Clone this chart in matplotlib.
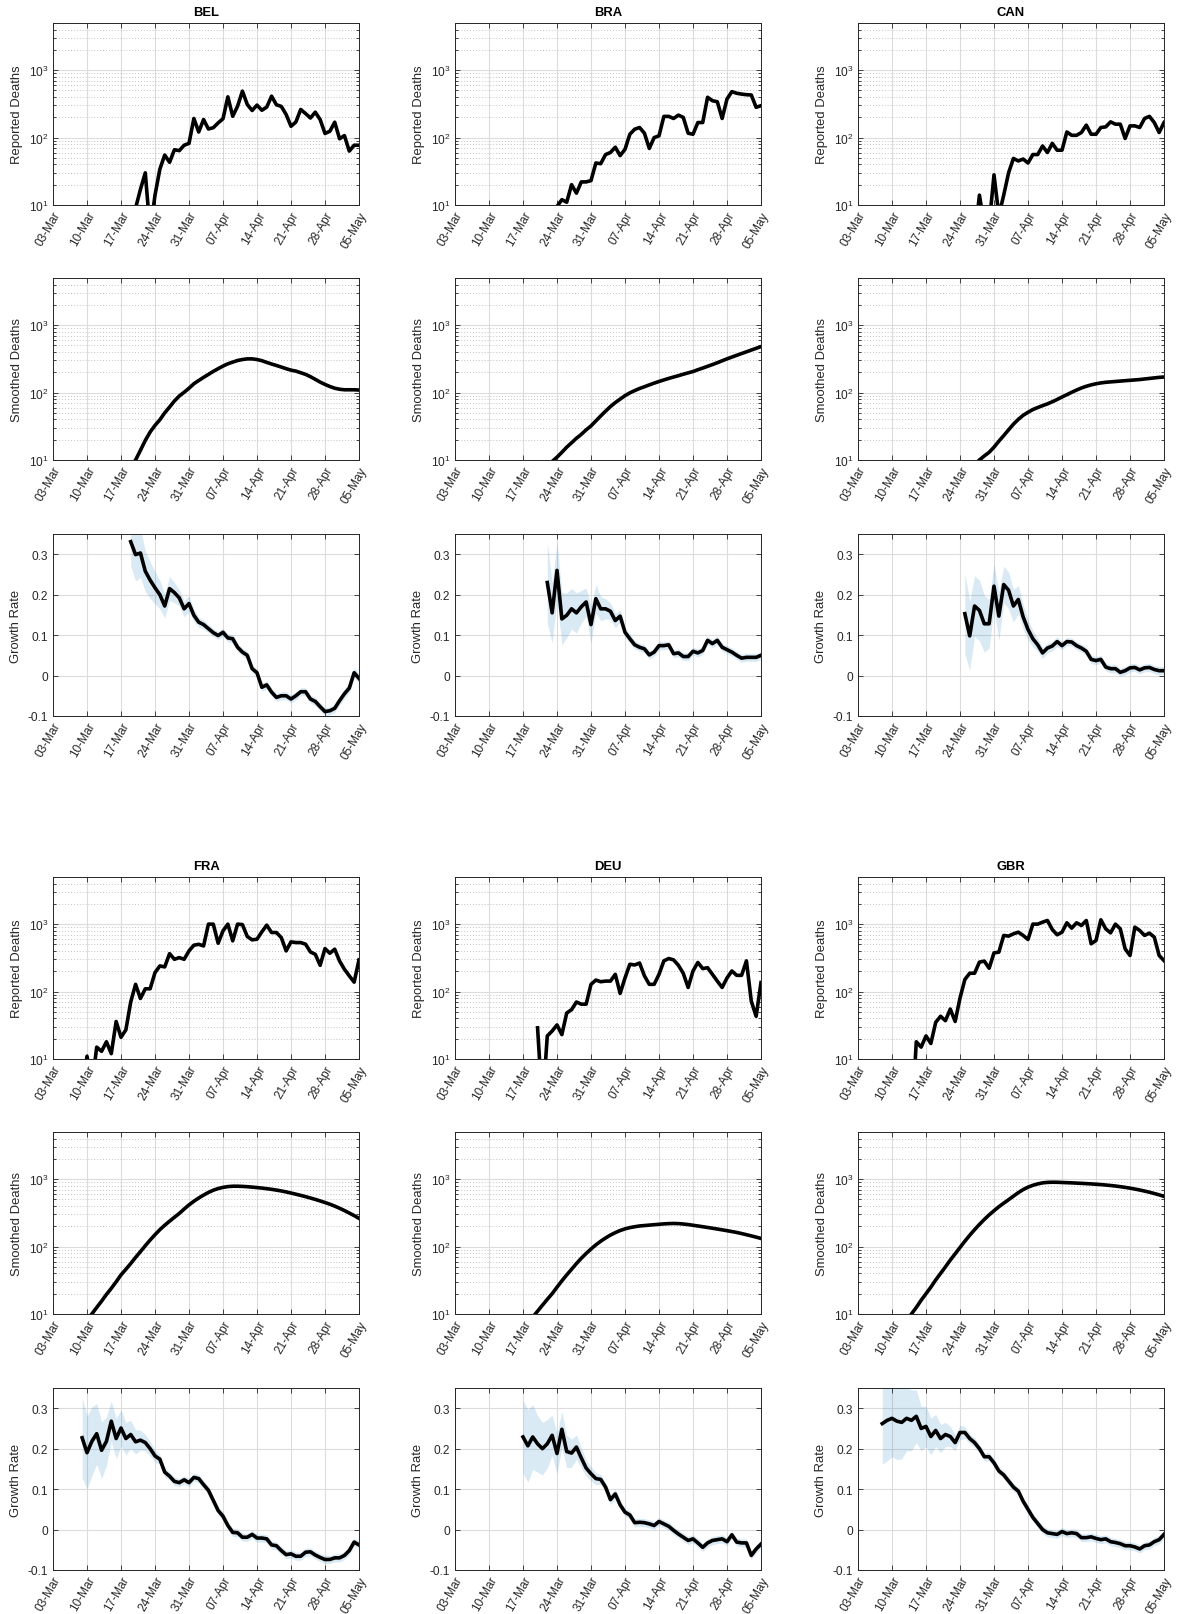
import numpy as np
import matplotlib
matplotlib.use('Agg')
import matplotlib.pyplot as plt
import matplotlib.dates as mdates
from matplotlib.ticker import LogLocator, NullFormatter

plt.rcParams['font.family'] = ['Liberation Sans', 'DejaVu Sans']
plt.rcParams['mathtext.fontset'] = 'custom'
plt.rcParams['mathtext.rm'] = 'Liberation Sans'
plt.rcParams['mathtext.it'] = 'Liberation Sans:italic'

FIG_W, FIG_H = 1178, 1615
X_START = np.datetime64('2020-03-03')
X_END = np.datetime64('2020-05-05')

COUNTRIES = ['BEL', 'BRA', 'CAN', 'FRA', 'DEU', 'GBR']

# daily series, each one ends on 05-May
BEL_REPORTED = [9, 17, 30, 4, 14, 34, 55, 43, 66, 64, 77, 82, 192, 121, 185, 134, 140, 165, 190, 402,
                207, 292, 488, 309, 252, 303, 254, 283, 411, 306, 290, 220, 147, 170, 261, 227, 195, 238,
                185, 115, 124, 169, 96, 107, 63, 77, 77]
BRA_REPORTED = [6, 9.5, 12, 11, 20, 15, 22, 22, 23, 42, 41, 56, 60, 72, 54, 67, 112, 133, 141, 116, 69,
                100, 106, 206, 206, 192, 215, 199, 116, 112, 167, 167, 396, 352, 340, 192, 373, 480, 454,
                441, 432, 428, 281, 297]
CAN_REPORTED = [3, 14, 5, 5, 28, 7, 14, 30, 49, 45, 48, 42, 56, 56, 75, 60, 82, 65, 65, 121, 108, 108,
                119, 153, 112, 112, 141, 144, 171, 158, 158, 97, 149, 149, 141, 192, 206, 167, 119, 167]
FRA_REPORTED = [3, 11, 4, 15, 13, 18, 12, 36, 21, 27, 70, 128, 79, 110, 110, 191, 240, 232, 365, 301,
                319, 301, 401, 487, 502, 475, 1000, 1000, 521, 795, 1000, 565, 1000, 985, 655, 585, 598,
                769, 966, 751, 751, 632, 401, 546, 533, 533, 504, 387, 357, 245, 434, 370, 425, 284, 214,
                171, 138, 295]
DEU_REPORTED = [29, 2, 22, 26, 32, 23, 48, 54, 70, 65, 65, 128, 148, 140, 143, 143, 180, 94, 159, 254,
                248, 265, 171, 128, 128, 180, 285, 309, 295, 245, 186, 115, 202, 270, 219, 226, 180, 143,
                115, 159, 202, 174, 174, 285, 72, 43, 136]
GBR_REPORTED = [1, 18, 15, 22, 17, 35, 43, 37, 55, 36, 80, 151, 187, 187, 273, 283, 222, 375, 384, 680,
                664, 718, 760, 680, 592, 1000, 1000, 1070, 1133, 833, 695, 760, 1046, 872, 1046, 955, 1133,
                511, 572, 1160, 852, 743, 1000, 852, 430, 343, 902, 805, 680, 735, 641, 343, 288]

BEL_SMOOTHED = [8, 10, 13.9, 19.5, 26, 32.6, 39.5, 50, 61, 75, 89, 101, 116, 135, 151, 168, 186, 206,
                226, 247, 267, 283, 299, 309, 316, 316, 309, 297, 280, 265, 252, 239, 226, 215, 208, 197,
                186, 172, 157, 143, 132, 123, 116, 112, 110, 110, 110, 109]
BRA_SMOOTHED = [9.5, 11, 13, 15.5, 18, 21, 24, 28, 32, 38, 45, 53, 62, 71, 80, 90, 99, 107, 115, 122,
                130, 138, 146, 154, 162, 170, 178, 187, 196, 205, 218, 231, 245, 260, 277, 296, 316, 336,
                357, 379, 402, 427, 453, 480]
CAN_SMOOTHED = [8.5, 10, 11.5, 13, 15.5, 19, 23, 28, 34, 40, 46, 51, 56, 60, 64, 68, 73, 79, 86, 93,
                101, 109, 117, 124, 130, 135, 139, 142, 144, 146, 148, 150, 152, 154, 156, 159, 162, 165,
                168, 170]
FRA_SMOOTHED = [8.5, 10, 12.5, 15.5, 19.5, 24, 30, 38, 46, 56, 69, 84, 103, 125, 150, 178, 207, 238,
                272, 310, 360, 415, 470, 525, 580, 635, 685, 725, 755, 775, 785, 785, 780, 772, 762, 750,
                737, 722, 706, 688, 668, 646, 622, 598, 574, 550, 525, 500, 475, 450, 425, 398, 370, 342,
                314, 288, 262]
DEU_SMOOTHED = [9, 11, 13.5, 16.5, 20, 25, 31, 38, 46, 56, 67, 79, 92, 106, 120, 134, 148, 161, 173,
                183, 191, 197, 202, 205, 208, 211, 214, 217, 219, 220, 219, 216, 212, 207, 202, 197, 192,
                187, 182, 177, 172, 167, 162, 156, 150, 144, 138, 132]
GBR_SMOOTHED = [8, 10, 12.5, 16, 20, 25, 32, 40, 50, 63, 78, 97, 120, 147, 178, 213, 252, 295, 340, 390,
                440, 495, 560, 630, 700, 760, 810, 850, 880, 895, 900, 898, 892, 886, 880, 873, 866, 858,
                850, 840, 830, 818, 805, 790, 773, 755, 735, 713, 690, 665, 640, 612, 585, 555]

BEL_GROWTH = [0.331, 0.299, 0.303, 0.258, 0.236, 0.217, 0.2, 0.172, 0.215, 0.205, 0.192, 0.165, 0.178,
              0.149, 0.132, 0.126, 0.116, 0.106, 0.099, 0.107, 0.093, 0.091, 0.07, 0.058, 0.05, 0.017,
              0.007, -0.029, -0.023, -0.041, -0.054, -0.05, -0.05, -0.058, -0.05, -0.04, -0.04, -0.058,
              -0.064, -0.077, -0.089, -0.087, -0.081, -0.062, -0.045, -0.031, 0.007, -0.007]
BRA_GROWTH = [0.23, 0.155, 0.26, 0.14, 0.149, 0.165, 0.155, 0.17, 0.182, 0.126, 0.19, 0.165, 0.165,
              0.159, 0.136, 0.147, 0.107, 0.091, 0.076, 0.07, 0.066, 0.051, 0.058, 0.074, 0.074, 0.076,
              0.054, 0.056, 0.047, 0.047, 0.06, 0.056, 0.062, 0.087, 0.079, 0.087, 0.07, 0.064, 0.058,
              0.05, 0.043, 0.045, 0.045, 0.045, 0.05]
CAN_GROWTH = [0.153, 0.098, 0.172, 0.161, 0.128, 0.128, 0.221, 0.147, 0.225, 0.211, 0.172, 0.188, 0.145,
              0.114, 0.091, 0.076, 0.056, 0.068, 0.073, 0.084, 0.074, 0.084, 0.083, 0.074, 0.068, 0.06,
              0.04, 0.037, 0.04, 0.021, 0.017, 0.017, 0.008, 0.012, 0.019, 0.02, 0.014, 0.019, 0.02,
              0.015, 0.012, 0.012]
FRA_GROWTH = [0.227, 0.19, 0.218, 0.237, 0.196, 0.218, 0.268, 0.225, 0.251, 0.225, 0.235, 0.217, 0.221,
              0.215, 0.2, 0.182, 0.174, 0.142, 0.132, 0.119, 0.116, 0.123, 0.116, 0.129, 0.126, 0.111,
              0.097, 0.072, 0.047, 0.033, 0.01, -0.007, -0.008, -0.019, -0.019, -0.012, -0.021, -0.021,
              -0.023, -0.038, -0.04, -0.052, -0.062, -0.06, -0.066, -0.066, -0.056, -0.055, -0.063,
              -0.069, -0.074, -0.074, -0.07, -0.07, -0.064, -0.052, -0.031, -0.038]
DEU_GROWTH = [0.229, 0.207, 0.229, 0.212, 0.2, 0.212, 0.233, 0.188, 0.248, 0.193, 0.189, 0.204, 0.177,
              0.152, 0.138, 0.126, 0.124, 0.105, 0.074, 0.088, 0.061, 0.043, 0.036, 0.017, 0.018, 0.017,
              0.014, 0.01, 0.02, 0.014, 0.008, -0.002, -0.011, -0.019, -0.027, -0.023, -0.033, -0.044,
              -0.033, -0.027, -0.025, -0.023, -0.03, -0.013, -0.031, -0.033, -0.033, -0.064, -0.048,
              -0.036]
GBR_GROWTH = [0.262, 0.27, 0.275, 0.268, 0.265, 0.275, 0.27, 0.28, 0.25, 0.255, 0.23, 0.245, 0.225,
              0.235, 0.23, 0.215, 0.24, 0.24, 0.225, 0.215, 0.2, 0.18, 0.18, 0.165, 0.145, 0.135, 0.12,
              0.105, 0.095, 0.07, 0.05, 0.03, 0.015, 0.0, -0.008, -0.01, -0.012, -0.005, -0.01, -0.008,
              -0.01, -0.02, -0.02, -0.018, -0.022, -0.025, -0.023, -0.03, -0.032, -0.035, -0.04, -0.04,
              -0.043, -0.048, -0.04, -0.038, -0.03, -0.025, -0.012]

# half width of the shaded band around the growth rate
BEL_BAND = [0.06, 0.065, 0.06, 0.05, 0.045, 0.04, 0.035, 0.03, 0.03, 0.025,
            0.02, 0.02, 0.02, 0.015, 0.012, 0.012, 0.01, 0.01, 0.01, 0.01,
            0.01, 0.01, 0.01, 0.01, 0.01, 0.01, 0.01, 0.01, 0.01, 0.01,
            0.01, 0.01, 0.01, 0.01, 0.01, 0.01, 0.01, 0.01, 0.01, 0.01,
            0.01, 0.01, 0.01, 0.01, 0.012, 0.012, 0.012, 0.012]
BRA_BAND = [0.1, 0.075, 0.07, 0.065, 0.055, 0.05, 0.05, 0.04, 0.035, 0.045,
            0.035, 0.03, 0.025, 0.02, 0.018, 0.015, 0.012, 0.012, 0.01, 0.01,
            0.01, 0.01, 0.01, 0.01, 0.01, 0.01, 0.01, 0.01, 0.01, 0.01,
            0.01, 0.01, 0.01, 0.01, 0.01, 0.01, 0.01, 0.01, 0.01, 0.01,
            0.01, 0.01, 0.01, 0.01, 0.01]
CAN_BAND = [0.1, 0.085, 0.075, 0.075, 0.07, 0.06, 0.055, 0.06, 0.045, 0.045,
            0.04, 0.035, 0.03, 0.025, 0.02, 0.016, 0.014, 0.012, 0.012, 0.012,
            0.01, 0.01, 0.01, 0.01, 0.01, 0.01, 0.01, 0.01, 0.01, 0.01,
            0.01, 0.01, 0.01, 0.01, 0.01, 0.01, 0.01, 0.01, 0.01, 0.01,
            0.01, 0.01]
FRA_BAND = [0.1, 0.09, 0.085, 0.075, 0.07, 0.06, 0.05, 0.05, 0.045, 0.04,
            0.035, 0.03, 0.025, 0.02, 0.018, 0.015, 0.012, 0.012, 0.01, 0.01,
            0.01, 0.01, 0.01, 0.01, 0.01, 0.01, 0.01, 0.01, 0.01, 0.01,
            0.01, 0.01, 0.01, 0.01, 0.01, 0.01, 0.01, 0.01, 0.01, 0.01,
            0.01, 0.01, 0.01, 0.01, 0.01, 0.01, 0.01, 0.01, 0.01, 0.01,
            0.01, 0.01, 0.01, 0.01, 0.01, 0.01, 0.01, 0.01]
DEU_BAND = [0.09, 0.09, 0.08, 0.07, 0.065, 0.06, 0.05, 0.05, 0.045, 0.04,
            0.035, 0.03, 0.025, 0.02, 0.018, 0.015, 0.012, 0.012, 0.012, 0.012,
            0.01, 0.01, 0.01, 0.01, 0.01, 0.01, 0.01, 0.01, 0.01, 0.01,
            0.01, 0.01, 0.01, 0.01, 0.01, 0.01, 0.01, 0.01, 0.01, 0.01,
            0.01, 0.01, 0.01, 0.01, 0.01, 0.01, 0.01, 0.01, 0.01, 0.01]
GBR_BAND = [0.1, 0.1, 0.095, 0.095, 0.09, 0.08, 0.075, 0.065, 0.055, 0.05,
            0.045, 0.04, 0.035, 0.03, 0.025, 0.02, 0.018, 0.015, 0.012, 0.012,
            0.01, 0.01, 0.01, 0.01, 0.01, 0.01, 0.01, 0.01, 0.01, 0.01,
            0.01, 0.01, 0.01, 0.01, 0.01, 0.01, 0.01, 0.01, 0.01, 0.01,
            0.01, 0.01, 0.01, 0.01, 0.01, 0.01, 0.01, 0.01, 0.01, 0.01,
            0.01, 0.01, 0.01, 0.01, 0.01, 0.01, 0.01, 0.01, 0.01]

REPORTED = dict(zip(COUNTRIES, [BEL_REPORTED, BRA_REPORTED, CAN_REPORTED, FRA_REPORTED, DEU_REPORTED, GBR_REPORTED]))
SMOOTHED = dict(zip(COUNTRIES, [BEL_SMOOTHED, BRA_SMOOTHED, CAN_SMOOTHED, FRA_SMOOTHED, DEU_SMOOTHED, GBR_SMOOTHED]))
GROWTH = dict(zip(COUNTRIES, [BEL_GROWTH, BRA_GROWTH, CAN_GROWTH, FRA_GROWTH, DEU_GROWTH, GBR_GROWTH]))
BAND = dict(zip(COUNTRIES, [BEL_BAND, BRA_BAND, CAN_BAND, FRA_BAND, DEU_BAND, GBR_BAND]))

# layout in pixels
COL_LEFT = [53, 455, 858]
PANEL_W = 306
ROW_TOP = [24, 279, 535, 878, 1133, 1389]
PANEL_H = 182

EDGE = '#262626'
BAND_COLOR = '#0072BD'
TICK_DATES = np.arange(X_START, X_END + np.timedelta64(1, 'D'), 7)


def dates_for(values):
    n = len(values)
    return X_END - np.arange(n)[::-1].astype('timedelta64[D]')


def make_axes(fig, col, row):
    rect = [COL_LEFT[col] / FIG_W, 1 - (ROW_TOP[row] + PANEL_H) / FIG_H,
            PANEL_W / FIG_W, PANEL_H / FIG_H]
    return fig.add_axes(rect)


def style_axes(ax):
    ax.set_xlim(X_START, X_END)
    ax.set_xticks(TICK_DATES)
    ax.xaxis.set_major_formatter(mdates.DateFormatter('%d-%b'))
    ax.tick_params(which='both', direction='in', top=True, right=True,
                   labelsize=8.6, colors=EDGE, width=0.6)
    ax.tick_params(which='major', length=3.5)
    ax.tick_params(which='minor', length=2)
    ax.tick_params(axis='x', labelrotation=60, pad=3)
    plt.setp(ax.get_xticklabels(), ha='right', rotation_mode='anchor')
    ax.grid(True, which='major', color='#dcdcdc', lw=0.8)
    ax.set_axisbelow(True)
    for sp in ax.spines.values():
        sp.set_color(EDGE)
        sp.set_linewidth(0.7)


def log_panel(ax, values, label):
    style_axes(ax)
    ax.set_yscale('log')
    ax.set_ylim(10, 5000)
    ax.set_yticks([10, 100, 1000])
    ax.yaxis.set_minor_locator(LogLocator(base=10, subs=np.arange(2, 10)))
    ax.yaxis.set_minor_formatter(NullFormatter())
    ax.grid(True, which='minor', axis='y', color='#b0b0b0', lw=0.6, ls=(0, (1, 2.5)))
    ax.plot(dates_for(values), values, color='black', lw=2.6)
    ax.set_ylabel(label, fontsize=9.4, color=EDGE)


def growth_panel(ax, values, band):
    style_axes(ax)
    g = np.array(values)
    h = np.array(band)
    d = dates_for(values)
    ax.fill_between(d, g - h, g + h, color=BAND_COLOR, alpha=0.15, lw=0)
    ax.plot(d, g, color='black', lw=2.6)
    ax.set_ylim(-0.1, 0.35)
    ax.set_yticks([-0.1, 0, 0.1, 0.2, 0.3])
    ax.set_yticklabels(['-0.1', '0', '0.1', '0.2', '0.3'])
    ax.set_ylabel('Growth Rate', fontsize=9.4, color=EDGE)


fig = plt.figure(figsize=(FIG_W / 100, FIG_H / 100), dpi=100)

for i, country in enumerate(COUNTRIES):
    col = i % 3
    group = i // 3
    ax1 = make_axes(fig, col, group * 3)
    log_panel(ax1, REPORTED[country], 'Reported Deaths')
    ax1.set_title(country, fontweight='bold', fontsize=9.4, color='black', pad=6)
    ax2 = make_axes(fig, col, group * 3 + 1)
    log_panel(ax2, SMOOTHED[country], 'Smoothed Deaths')
    ax3 = make_axes(fig, col, group * 3 + 2)
    growth_panel(ax3, GROWTH[country], BAND[country])

fig.savefig('out.png', dpi=100, facecolor='white')
